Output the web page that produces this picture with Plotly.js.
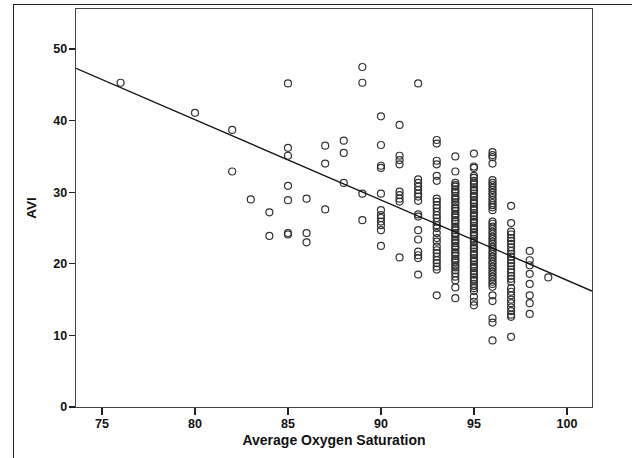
<!DOCTYPE html>
<html>
<head>
<meta charset="utf-8">
<script src="https://cdn.plot.ly/plotly-3.0.1.min.js"></script>
<style>
  html, body { margin: 0; padding: 0; background: #fff; }
  #wrap { position: relative; width: 632px; height: 458px; overflow: hidden; }
  #chart { position: absolute; left: 0; top: 0; width: 632px; height: 458px; }
  #frame { position: absolute; left: 13px; top: 4px; width: 640px; height: 470px;
           border-top: 1.5px solid #222; border-left: 1.5px solid #222; pointer-events: none; }
</style>
</head>
<body>
<div id="wrap">
  <div id="chart"></div>
  <div id="frame"></div>
</div>
<script>
// Average oxygen saturation (x) and the AVI values read at each saturation level
const saturationLevels = [76, 80, 82, 83, 84, 85, 86, 87, 88, 89, 90, 91, 92, 93, 94, 95, 96, 97, 98, 99];

const avi76 = [45.3];
const avi80 = [41.1];
const avi82 = [38.7, 32.9];
const avi83 = [29.0];
const avi84 = [27.2, 23.9];
const avi85 = [45.2, 36.2, 35.1, 30.9, 28.9, 24.3, 24.1];
const avi86 = [29.1, 24.3, 23.0];
const avi87 = [36.5, 34.0, 27.6];
const avi88 = [37.2, 35.5, 31.3];
const avi89 = [47.5, 45.3, 29.8, 26.1];
const avi90 = [40.6, 36.6, 33.7, 33.4, 29.8, 27.5, 26.8, 26.4, 25.9, 25.4, 24.7, 22.5];
const avi91 = [39.4, 35.1, 34.5, 33.9, 30.1, 29.6, 29.1, 28.7, 20.9];
const avi92 = [45.2, 31.8, 31.3, 30.8, 30.3, 29.8, 29.4, 28.8, 26.9, 26.6, 24.7, 23.4, 21.7, 21.2, 20.8, 18.5];
const avi93 = [37.3, 36.8, 34.4, 33.9, 32.3, 31.6, 29.1, 28.7, 28.2, 27.8, 27.3, 26.8, 26.4, 25.9, 25.4, 25.0,
               24.3, 23.6, 23.1, 22.4, 21.9, 21.5, 21.0, 20.5, 20.1, 19.6, 19.2, 15.6];
const avi94 = [35.0, 32.9, 31.3, 31.0, 30.8, 30.4, 30.1, 29.9, 29.5, 29.2, 29.0, 28.6, 28.3, 27.9, 27.7, 27.4,
               27.0, 26.8, 26.5, 26.1, 25.9, 25.6, 25.2, 25.0, 24.7, 24.3, 24.1, 23.8, 23.4, 23.2, 22.9, 22.5,
               22.3, 22.0, 21.6, 21.4, 21.1, 20.7, 20.5, 20.2, 19.8, 19.5, 19.1, 18.7, 18.2, 17.7, 16.7, 15.2];
const avi95 = [35.4, 33.6, 33.4, 32.3, 32.0, 31.6, 31.3, 31.1, 30.7, 30.4, 30.2, 29.8, 29.5, 29.3, 28.9, 28.6,
               28.4, 28.0, 27.7, 27.5, 27.1, 26.8, 26.6, 26.2, 25.9, 25.7, 25.3, 25.0, 24.8, 24.4, 24.1, 23.9,
               23.5, 23.2, 23.0, 22.6, 22.3, 22.1, 21.7, 21.4, 21.2, 20.8, 20.5, 20.3, 19.9, 19.6, 19.4, 19.0,
               18.7, 18.5, 18.1, 17.8, 17.6, 17.2, 16.9, 16.6, 16.2, 15.4, 14.7, 14.2];
const avi96 = [35.6, 35.2, 34.9, 34.0, 31.7, 31.3, 31.0, 30.6, 30.3, 29.9, 29.6, 29.2, 28.9, 28.5, 28.2, 27.9,
               27.5, 25.9, 25.6, 25.2, 24.9, 24.5, 24.2, 23.8, 23.5, 23.1, 22.8, 22.4, 22.1, 21.7, 21.4, 21.0,
               20.7, 20.3, 20.0, 19.6, 19.3, 18.9, 18.6, 18.2, 17.9, 17.5, 17.2, 16.8, 15.6, 14.8, 12.4, 11.8, 9.3];
const avi97 = [28.1, 25.7, 24.5, 24.1, 23.6, 23.2, 22.8, 22.3, 21.8, 21.4, 21.0, 20.5, 20.1, 19.7, 19.2, 18.8,
               18.3, 17.9, 17.5, 16.6, 16.1, 15.6, 15.0, 14.5, 13.9, 13.4, 12.9, 12.6, 9.8];
const avi98 = [21.8, 20.5, 19.8, 18.6, 17.2, 15.6, 14.5, 13.0];
const avi99 = [18.1];

const aviByLevel = [avi76, avi80, avi82, avi83, avi84, avi85, avi86, avi87, avi88, avi89,
                    avi90, avi91, avi92, avi93, avi94, avi95, avi96, avi97, avi98, avi99];

// Linear fit line (at the plot edges)
const fitX = [73.6, 101.35];
const fitY = [47.3, 16.2];

const xTicks = [75, 80, 85, 90, 95, 100];
const yTicks = [0, 10, 20, 30, 40, 50];

const px = [], py = [];
saturationLevels.forEach((s, i) => {
  aviByLevel[i].forEach(v => { px.push(s); py.push(v); });
});

const FAMILY = 'Liberation Sans, Arial, sans-serif';
const tickFont = { family: FAMILY, size: 12.5, color: '#111', weight: 'bold' };

const traces = [
  {
    x: px, y: py, type: 'scatter', mode: 'markers',
    marker: { symbol: 'circle-open', size: 7, color: '#333', line: { width: 1.2, color: '#333' } },
    hoverinfo: 'skip', showlegend: false
  },
  {
    x: fitX, y: fitY, type: 'scatter', mode: 'lines',
    line: { color: '#111', width: 1.3 },
    hoverinfo: 'skip', showlegend: false
  }
];

const layout = {
  width: 632, height: 458,
  margin: { l: 76, r: 40, t: 9, b: 51 },
  paper_bgcolor: 'rgba(0,0,0,0)',
  plot_bgcolor: '#fff',
  showlegend: false,
  xaxis: {
    range: [73.6, 101.35],
    tickvals: xTicks,
    ticks: 'outside', ticklen: 7, tickwidth: 1.3, tickcolor: '#222',
    ticklabelstandoff: -2,
    showgrid: false, zeroline: false,
    showline: true, linecolor: '#444', linewidth: 1.3, mirror: true,
    tickfont: tickFont,
    title: { text: 'Average Oxygen Saturation', font: { family: FAMILY, size: 14, color: '#111', weight: 'bold' }, standoff: 5 }
  },
  yaxis: {
    range: [0, 55.6],
    tickvals: yTicks,
    ticks: 'outside', ticklen: 6, tickwidth: 1.3, tickcolor: '#222',
    ticklabelstandoff: -1,
    showgrid: false, zeroline: false,
    showline: true, linecolor: '#444', linewidth: 1.3, mirror: true,
    tickfont: tickFont,
    title: { text: 'AVI', font: { family: FAMILY, size: 13.5, color: '#111', weight: 'bold' }, standoff: 13 }
  }
};

Plotly.newPlot('chart', traces, layout, { staticPlot: true, displayModeBar: false });
</script>
</body>
</html>
